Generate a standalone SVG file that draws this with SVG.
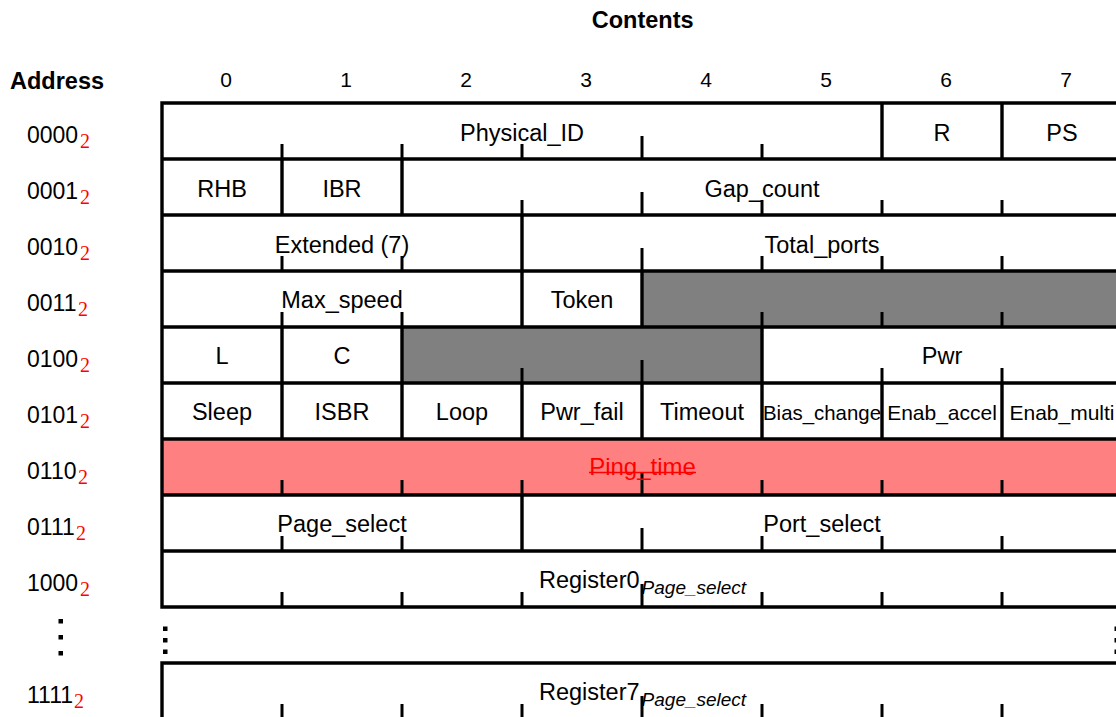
<svg xmlns="http://www.w3.org/2000/svg" width="1116" height="717" viewBox="0 0 1116 717">
<style>
text{font-family:"Liberation Sans",Arial,sans-serif;fill:#000}
.h{font-weight:bold;font-size:23.5px}
.col{font-size:21px;text-anchor:middle}
.adr{font-size:23px}
.sub{font-family:"Liberation Serif","Times New Roman",serif;font-size:20px;fill:#ff0000}
.c{font-size:23.5px;text-anchor:middle}
.cs{font-size:21px;text-anchor:middle}
.grid{stroke:#000;stroke-width:3.4;fill:none}
.tick{stroke:#000;stroke-width:3;fill:none}
.it{font-style:italic;font-size:19px}
.dot{fill:#000}
</style>
<rect width="1116" height="717" fill="#fff"/>

<g id="header">
<text class="h" x="642.7" y="28" text-anchor="middle">Contents</text>
<text class="h" x="10" y="89">Address</text>
<text class="col" x="226" y="87">0</text>
<text class="col" x="346" y="87">1</text>
<text class="col" x="466" y="87">2</text>
<text class="col" x="586" y="87">3</text>
<text class="col" x="706" y="87">4</text>
<text class="col" x="826" y="87">5</text>
<text class="col" x="946" y="87">6</text>
<text class="col" x="1066" y="87">7</text>
</g>

<g id="addresses">
<text class="adr" x="27" y="142.7">0000</text><text class="sub" x="80" y="148">2</text>
<text class="adr" x="27" y="198.7">0001</text><text class="sub" x="80" y="204">2</text>
<text class="adr" x="27" y="254.7">0010</text><text class="sub" x="80" y="260">2</text>
<text class="adr" x="27" y="310.7">0011</text><text class="sub" x="78" y="316">2</text>
<text class="adr" x="27" y="366.7">0100</text><text class="sub" x="80" y="372">2</text>
<text class="adr" x="27" y="422.7">0101</text><text class="sub" x="80" y="428">2</text>
<text class="adr" x="27" y="478.7">0110</text><text class="sub" x="78" y="484">2</text>
<text class="adr" x="27" y="534.7">0111</text><text class="sub" x="76" y="540">2</text>
<text class="adr" x="27" y="590.7">1000</text><text class="sub" x="80" y="596">2</text>
<rect class="dot" x="58.5" y="619" width="4.5" height="4.5"/>
<rect class="dot" x="58.5" y="635" width="4.5" height="4.5"/>
<rect class="dot" x="58.5" y="651" width="4.5" height="4.5"/>
<text class="adr" x="27" y="702.5">1111</text><text class="sub" x="74" y="707.8">2</text>
</g>

<g id="fills">
<rect x="642" y="271" width="474" height="56" fill="#808080"/>
<rect x="402" y="327" width="360" height="56" fill="#808080"/>
<rect x="162" y="439" width="954" height="56" fill="#ff8080"/>
</g>

<g id="connectors">
<path class="grid" d="M160.3 103H1116M160.3 159H1116M160.3 215H1116M160.3 271H1116M160.3 327H1116M160.3 383H1116M160.3 439H1116M160.3 495H1116M160.3 551H1116M160.3 607H1116M160.3 663H1116M162 101.3V608.7M162 661.3V717"/>
<path class="grid" d="M882 103V159M1002 103V159M282 159V215M402 159V215M522 215V271M522 271V327M642 271V327M282 327V383M402 327V383M762 327V383M282 383V439M402 383V439M522 383V439M642 383V439M762 383V439M882 383V439M1002 383V439M522 495V551"/>
<path class="tick" d="M282 144V159M402 144V159M522 144V159M642 136V159M762 144V159
M522 200V215M642 192V215M762 200V215M882 200V215M1002 200V215
M282 256V271M402 256V271M642 248V271M762 256V271M882 256V271M1002 256V271
M282 312V327M402 312V327M762 312V327M882 312V327M1002 312V327
M522 368V383M642 360V383M882 368V383M1002 368V383
M282 480V495M402 480V495M522 480V495M642 472V495M762 480V495M882 480V495M1002 480V495
M282 536V551M402 536V551M642 528V551M762 536V551M882 536V551M1002 536V551
M282 592V607M402 592V607M522 592V607M642 584V607M762 592V607M882 592V607M1002 592V607
M282 704V719M402 704V719M522 704V719M642 696V719M762 704V719M882 704V719M1002 704V719"/>
<rect class="dot" x="163" y="626.5" width="4.5" height="4.5"/>
<rect class="dot" x="163" y="638" width="4.5" height="4.5"/>
<rect class="dot" x="163" y="649.5" width="4.5" height="4.5"/>
<rect class="dot" x="1114.5" y="626.5" width="4.5" height="4.5"/>
<rect class="dot" x="1114.5" y="638" width="4.5" height="4.5"/>
<rect class="dot" x="1114.5" y="649.5" width="4.5" height="4.5"/>
</g>

<g id="row-0000">
<text class="c" x="522" y="140.5">Physical_ID</text>
<text class="c" x="942" y="140.5">R</text>
<text class="c" x="1062" y="140.5">PS</text>
</g>
<g id="row-0001">
<text class="c" x="222" y="196.5">RHB</text>
<text class="c" x="342" y="196.5">IBR</text>
<text class="c" x="762" y="196.5">Gap_count</text>
</g>
<g id="row-0010">
<text class="c" x="342" y="252.5">Extended (7)</text>
<text class="c" x="822" y="252.5">Total_ports</text>
</g>
<g id="row-0011">
<text class="c" x="342" y="308">Max_speed</text>
<text class="c" x="582" y="308">Token</text>
</g>
<g id="row-0100">
<text class="c" x="222" y="364">L</text>
<text class="c" x="342" y="364">C</text>
<text class="c" x="942" y="364">Pwr</text>
</g>
<g id="row-0101">
<text class="c" x="222" y="420">Sleep</text>
<text class="c" x="342" y="420">ISBR</text>
<text class="c" x="462" y="420">Loop</text>
<text class="c" x="582" y="420">Pwr_fail</text>
<text class="c" x="702" y="420">Timeout</text>
<text class="cs" x="822" y="420" textLength="118" lengthAdjust="spacingAndGlyphs">Bias_change</text>
<text class="cs" x="942" y="420">Enab_accel</text>
<text class="cs" x="1062" y="420">Enab_multi</text>
</g>
<g id="row-0110">
<text class="c" x="642.5" y="475" style="fill:#ff0000;font-size:24px">Ping_time</text>
<line x1="589" y1="472.5" x2="696" y2="472.5" stroke="#ff0000" stroke-width="1.7"/>
</g>
<g id="row-0111">
<text class="c" x="342" y="532">Page_select</text>
<text class="c" x="822" y="532">Port_select</text>
</g>
<g id="row-1000">
<text x="539" y="587.5" style="font-size:23.5px">Register0<tspan class="it" dx="2" dy="6">Page_select</tspan></text>
</g>
<g id="row-1111">
<text x="539" y="700.3" style="font-size:23.5px">Register7<tspan class="it" dx="2" dy="6">Page_select</tspan></text>
</g>
</svg>
